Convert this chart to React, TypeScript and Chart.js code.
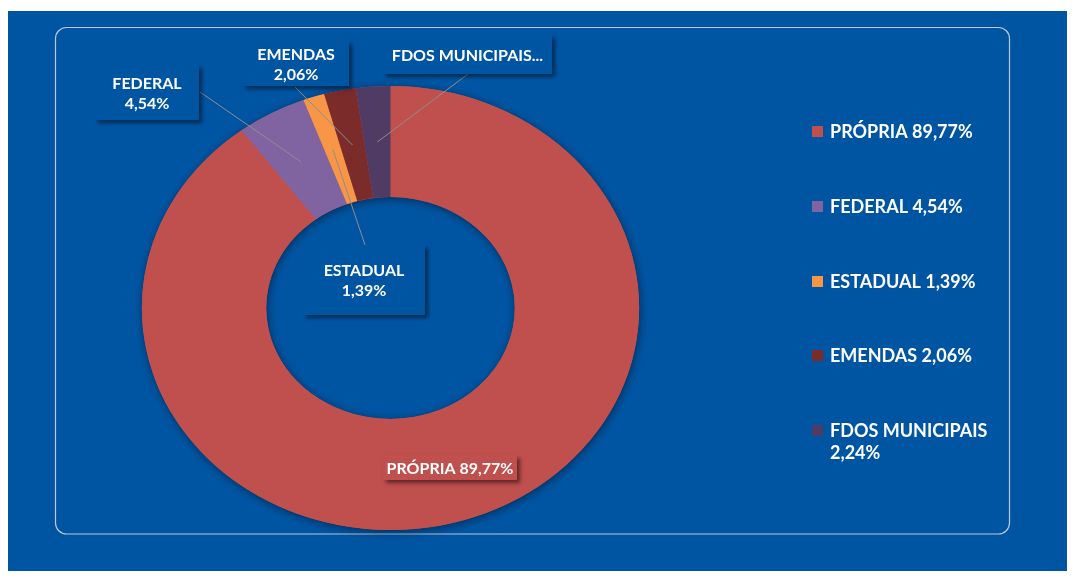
import { useEffect, useRef } from "react";
import { Chart, registerables } from "chart.js";

Chart.register(...registerables);

// ---- data ----
const categories = ["PRÓPRIA", "FEDERAL", "ESTADUAL", "EMENDAS", "FDOS MUNICIPAIS"];
const values = [89.77, 4.54, 1.39, 2.06, 2.24];
const valueLabels = ["89,77%", "4,54%", "1,39%", "2,06%", "2,24%"];
const sliceColors = ["#C0504D", "#8064A2", "#F79646", "#7A2B2A", "#4F3B63"];

// ---- layout / style ----
const BG = "#0055A3";
const CANVAS_W = 1067;
const CANVAS_H = 560;
const CX = 382.5;
const CY = 297;
const R = 222;
const SX = 1.12;
const FONT = "Lato, 'Open Sans', sans-serif";

// data-label boxes in canvas coords: [x0, y0, x1, y1], mode, leader start
type LabelLayout = { box: number[]; mode: "one" | "two" | "trunc"; from: number[] | null; fill: string };
const labelLayouts: LabelLayout[] = [
  { box: [375, 444, 509, 469], mode: "one", from: null, fill: sliceColors[0] },
  { box: [87, 54, 191, 109], mode: "two", from: [192, 81], fill: BG },
  { box: [295, 234, 417, 304], mode: "two", from: [357, 234], fill: BG },
  { box: [235, 30, 341, 75], mode: "two", from: [287, 76], fill: BG },
  { box: [375, 24, 544, 63], mode: "trunc", from: [460, 63], fill: BG },
];

const legendRows = [120, 195, 270, 344, 419];

function labelLines(i: number, mode: string): string[] {
  if (mode === "one") return [categories[i] + " " + valueLabels[i]];
  if (mode === "two") return [categories[i], valueLabels[i]];
  return [categories[i] + "..."];
}

const customPlugin = {
  id: "customDraw",
  beforeDraw(chart: any) {
    const ctx = chart.ctx;
    ctx.save();
    // frame
    const x0 = 47.5, y0 = 16.5, x1 = 1001.5, y1 = 523, rr = 11;
    ctx.beginPath();
    ctx.moveTo(x0 + rr, y0);
    ctx.lineTo(x1 - rr, y0);
    ctx.arcTo(x1, y0, x1, y0 + rr, rr);
    ctx.lineTo(x1, y1 - rr);
    ctx.arcTo(x1, y1, x1 - rr, y1, rr);
    ctx.lineTo(x0 + rr, y1);
    ctx.arcTo(x0, y1, x0, y1 - rr, rr);
    ctx.lineTo(x0, y0 + rr);
    ctx.arcTo(x0, y0, x0 + rr, y0, rr);
    ctx.closePath();
    ctx.strokeStyle = "#BCC8DA";
    ctx.lineWidth = 1.2;
    ctx.stroke();
    ctx.restore();
  },
  beforeDatasetsDraw(chart: any) {
    const ctx = chart.ctx;
    const arc = chart.getDatasetMeta(0).data[0];
    const cx = arc.x, cy = arc.y;
    ctx.save();
    ctx.translate(cx, cy);
    ctx.scale(SX, 1);
    ctx.translate(-cx, -cy);
    // shadow ring
    ctx.save();
    ctx.shadowColor = "rgba(0,0,0,0.45)";
    ctx.shadowBlur = 10;
    ctx.shadowOffsetX = 1;
    ctx.shadowOffsetY = 2;
    ctx.beginPath();
    ctx.arc(cx, cy, arc.outerRadius, 0, Math.PI * 2);
    ctx.arc(cx, cy, arc.innerRadius, Math.PI * 2, 0, true);
    ctx.fillStyle = sliceColors[0];
    ctx.fill();
    ctx.restore();
  },
  afterDatasetsDraw(chart: any) {
    const ctx = chart.ctx;
    ctx.restore();
    const meta = chart.getDatasetMeta(0);
    // leader lines
    ctx.save();
    ctx.strokeStyle = "#8E8E8E";
    ctx.lineWidth = 1;
    labelLayouts.forEach((L, i) => {
      if (!L.from) return;
      const a = meta.data[i];
      const mid = (a.startAngle + a.endAngle) / 2;
      const rm = (a.innerRadius + a.outerRadius) / 2;
      const tx = a.x + Math.cos(mid) * rm * SX;
      const ty = a.y + Math.sin(mid) * rm;
      ctx.beginPath();
      ctx.moveTo(L.from[0], L.from[1]);
      ctx.lineTo(tx, ty);
      ctx.stroke();
    });
    ctx.restore();
    // label boxes
    labelLayouts.forEach((L, i) => {
      const [x0, y0, x1, y1] = L.box;
      ctx.save();
      ctx.shadowColor = "rgba(0,0,0,0.5)";
      ctx.shadowBlur = 4;
      ctx.shadowOffsetX = 3;
      ctx.shadowOffsetY = 3;
      ctx.fillStyle = L.fill;
      ctx.fillRect(x0, y0, x1 - x0, y1 - y0);
      ctx.restore();
      const lines = labelLines(i, L.mode);
      ctx.save();
      ctx.fillStyle = "#FFFFFF";
      ctx.font = "bold 16px " + FONT;
      ctx.textAlign = "center";
      ctx.textBaseline = "middle";
      const lh = 20;
      const cxm = (x0 + x1) / 2;
      const cym = (y0 + y1) / 2 + 1;
      lines.forEach((t, k) => {
        ctx.fillText(t, cxm, cym + (k - (lines.length - 1) / 2) * lh);
      });
      ctx.restore();
    });
    // legend
    ctx.save();
    ctx.font = "bold 18px " + FONT;
    ctx.textBaseline = "middle";
    ctx.textAlign = "left";
    categories.forEach((c, i) => {
      const y = legendRows[i];
      ctx.fillStyle = sliceColors[i];
      ctx.fillRect(804, y - 5, 11, 11);
      ctx.fillStyle = "#FFFFFF";
      const full = c + " " + valueLabels[i];
      if (ctx.measureText(full).width > 175) {
        ctx.fillText(c, 822, y + 1);
        ctx.fillText(valueLabels[i], 822, y + 23);
      } else {
        ctx.fillText(full, 822, y + 1);
      }
    });
    ctx.restore();
  },
};

export default function App() {
  const ref = useRef<HTMLCanvasElement | null>(null);
  useEffect(() => {
    if (!ref.current) return;
    const chart = new Chart(ref.current, {
      type: "doughnut",
      data: {
        labels: categories,
        datasets: [
          {
            data: values,
            backgroundColor: sliceColors,
            borderWidth: 0,
          },
        ],
      },
      options: {
        responsive: false,
        animation: false,
        events: [],
        cutout: "50%",
        layout: {
          padding: {
            left: CX - R,
            right: CANVAS_W - (CX + R),
            top: CY - R,
            bottom: CANVAS_H - (CY + R),
          },
        },
        plugins: {
          legend: { display: false },
          tooltip: { enabled: false },
        },
      },
      plugins: [customPlugin],
    });
    return () => chart.destroy();
  }, []);
  return (
    <div style={{ paddingTop: 3 }}>
      <div style={{ background: BG, width: CANVAS_W, height: CANVAS_H }}>
        <canvas ref={ref} width={CANVAS_W} height={CANVAS_H} style={{ display: "block" }} />
      </div>
    </div>
  );
}
